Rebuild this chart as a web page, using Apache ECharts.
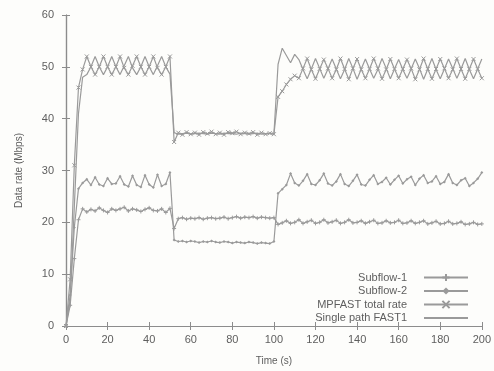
<!DOCTYPE html>
<html>
<head>
<meta charset="utf-8">
<script src="https://cdn.jsdelivr.net/npm/echarts@6/dist/echarts.min.js"></script>
<style>
  html, body { margin: 0; padding: 0; background: #fdfdfb; }
  #chart { width: 494px; height: 371px; }
</style>
</head>
<body>
<div id="chart"></div>
<script>
// sample times (s), one every 2 s
var times = [
  0, 2, 4, 6, 8, 10, 12, 14, 16, 18,
  20, 22, 24, 26, 28, 30, 32, 34, 36, 38,
  40, 42, 44, 46, 48, 50, 52, 54, 56, 58,
  60, 62, 64, 66, 68, 70, 72, 74, 76, 78,
  80, 82, 84, 86, 88, 90, 92, 94, 96, 98,
  100, 102, 104, 106, 108, 110, 112, 114, 116, 118,
  120, 122, 124, 126, 128, 130, 132, 134, 136, 138,
  140, 142, 144, 146, 148, 150, 152, 154, 156, 158,
  160, 162, 164, 166, 168, 170, 172, 174, 176, 178,
  180, 182, 184, 186, 188, 190, 192, 194, 196, 198,
  200
];

var subflow1 = [
  0, 4, 13, 20.5, 22.6, 22.0, 22.5, 22.2, 22.8, 22.3,
  21.9, 22.6, 22.3, 22.6, 22.9, 22.2, 22.6, 22.4, 22.1, 22.5,
  22.8, 22.3, 22.2, 22.6, 21.9, 22.7, 18.8, 20.7, 20.9, 20.6,
  20.8, 20.7, 20.9, 20.6, 20.8, 20.9, 20.7, 20.8, 21.0, 20.7,
  20.9, 21.1, 20.8, 21.0, 20.9, 21.1, 20.8, 21.0, 20.9, 20.8,
  20.9, 19.6, 19.9, 20.3, 19.8, 20.0, 20.5, 19.8, 20.1, 20.4,
  19.8, 20.0, 20.5, 19.9, 20.1, 20.4, 19.8, 20.0, 20.5, 19.9,
  20.0, 20.3, 19.8, 20.1, 20.4, 19.8, 19.9, 20.3, 19.9, 20.0,
  20.4, 19.8, 19.9, 20.3, 19.8, 20.0, 20.3, 19.7, 19.9, 20.2,
  19.7, 19.8, 20.2, 19.7, 19.8, 20.1, 19.6, 19.7, 20.0, 19.6,
  19.7
];

var subflow2 = [
  0, 6, 19, 26.5, 27.6, 28.3, 27.2, 28.7, 27.3, 27.0,
  28.5, 27.4, 27.5, 28.9, 27.3, 26.9, 29.0, 27.2, 26.8, 29.1,
  27.3, 26.7, 29.2, 27.0, 27.4, 29.6, 16.6, 16.3, 16.4, 16.2,
  16.4, 16.3, 16.1, 16.3, 16.2, 16.4, 16.2, 16.1, 16.3, 16.2,
  16.0, 16.2, 16.1, 16.0, 16.2, 16.1, 15.9, 16.1, 16.0, 15.9,
  16.3, 25.6, 26.4, 27.2, 29.4, 27.6, 27.1, 28.0, 29.3, 27.4,
  27.2, 28.1, 29.4, 27.5, 27.1, 27.9, 29.3, 27.4, 27.0, 28.0,
  29.2, 27.3, 27.1, 28.2, 29.1, 27.4, 27.8, 28.6, 27.3, 28.2,
  29.0, 27.5, 28.3, 28.8, 27.2, 28.4, 29.1, 27.6, 27.9, 28.9,
  27.4, 27.8, 29.3, 27.6, 27.2, 28.1, 28.5, 27.0, 27.6, 28.4,
  29.6
];

var mpfastTotal = [
  0, 9, 31, 46, 49.5, 52, 50, 48.5, 50, 52,
  50, 48.5, 50, 52, 49.8, 48.5, 50.2, 52, 50, 48.5,
  50, 52, 49.8, 48.5, 50, 52, 35.5, 37.3, 36.9, 37.4,
  37.0, 37.3, 36.9, 37.4, 37.1, 37.5, 37.0, 37.3, 36.9, 37.4,
  37.2, 37.5, 37.0, 37.3, 37.1, 37.4, 36.9, 37.3, 37.0, 37.2,
  37.0, 44.2, 45.3, 46.6, 47.6, 48.3, 47.8, 49.7, 51.6, 49.5,
  47.7, 49.6, 51.4, 49.7, 47.8, 49.5, 51.6, 49.6, 47.6, 49.7,
  51.5, 49.5, 47.8, 49.6, 51.6, 49.7, 47.7, 49.5, 51.5, 49.6,
  47.8, 49.6, 51.4, 49.7, 47.6, 49.5, 51.6, 49.6, 47.7, 49.6,
  51.5, 49.7, 47.8, 49.5, 51.6, 49.6, 47.7, 49.6, 51.5, 49.6,
  47.8
];

var singlePath = [
  0, 5, 23, 41, 48, 48.5, 50, 52, 50, 48.5,
  50, 52, 50, 48.5, 50.2, 52, 49.8, 48.5, 50, 52,
  50, 48.5, 50.2, 52, 50, 48.6, 37.3, 37.0, 37.1, 37.2,
  37.0, 37.1, 37.2, 37.1, 37.0, 37.2, 37.1, 37.0, 37.2, 37.1,
  37.1, 37.0, 37.2, 37.1, 37.0, 37.1, 37.2, 37.0, 37.1, 37.1,
  37.0, 50.5, 53.6, 52.2, 50.8, 52.4, 51.4, 49.5, 47.7, 49.6,
  51.6, 49.7, 47.8, 49.6, 51.5, 49.6, 47.7, 49.5, 51.6, 49.7,
  47.6, 49.6, 51.5, 49.6, 47.8, 49.5, 51.6, 49.7, 47.7, 49.6,
  51.4, 49.5, 47.8, 49.6, 51.5, 49.7, 47.6, 49.6, 51.6, 49.5,
  47.7, 49.6, 51.5, 49.7, 47.8, 49.6, 51.6, 49.5, 47.7, 49.6,
  51.5
];

var gray = '#9a9a9a';
var axisGray = '#8c8c8c';
var textGray = '#5e5e5e';
var font = 'Liberation Sans';

function pairs(vals) {
  return times.map(function (t, i) { return [t, vals[i]]; });
}

function makeSeries(name, vals, symbol, size, border) {
  return {
    name: name,
    type: 'line',
    data: pairs(vals),
    symbol: symbol,
    symbolSize: size,
    showSymbol: true,
    showAllSymbol: true,
    lineStyle: { color: gray, width: 1.2 },
    itemStyle: { color: gray, borderColor: gray, borderWidth: border },
    animation: false
  };
}

var chart = echarts.init(document.getElementById('chart'));

chart.setOption({
  backgroundColor: '#fdfdfb',
  animation: false,
  grid: { left: 66, right: 7, top: 15, bottom: 43 },
  legend: {
    orient: 'vertical',
    right: 20,
    top: 267,
    align: 'right',
    itemWidth: 44,
    itemHeight: 9,
    itemGap: 2.5,
    textStyle: { color: textGray, fontSize: 11, fontFamily: font, padding: [0, 12, 0, 0] },
    data: [
      'Subflow-1',
      'Subflow-2',
      'MPFAST total rate',
      { name: 'Single path FAST1', itemStyle: { opacity: 0 } }
    ]
  },
  xAxis: [{
    type: 'value',
    min: 0, max: 200, interval: 20,
    name: 'Time (s)',
    nameLocation: 'middle',
    nameGap: 30,
    nameTextStyle: { color: textGray, fontSize: 10, fontFamily: font },
    axisLine: { lineStyle: { color: axisGray, width: 1.2 } },
    axisTick: { inside: true, length: 4, lineStyle: { color: axisGray } },
    axisLabel: { color: textGray, fontSize: 11, fontFamily: font, margin: 8 },
    splitLine: { show: false }
  }, {
    type: 'value',
    position: 'top',
    min: 0, max: 200, interval: 20,
    axisLine: { show: true, lineStyle: { color: axisGray, width: 1.2 } },
    axisTick: { show: true, inside: true, length: 4, lineStyle: { color: axisGray } },
    axisLabel: { show: false },
    splitLine: { show: false }
  }],
  yAxis: [{
    type: 'value',
    min: 0, max: 60, interval: 10,
    name: 'Data rate (Mbps)',
    nameLocation: 'middle',
    nameGap: 42,
    nameTextStyle: { color: textGray, fontSize: 10, fontFamily: font },
    axisLine: { show: true, lineStyle: { color: axisGray, width: 1.2 } },
    axisTick: { show: true, inside: true, length: 4, lineStyle: { color: axisGray } },
    axisLabel: { color: textGray, fontSize: 11, fontFamily: font, margin: 12 },
    splitLine: { show: false }
  }, {
    type: 'value',
    position: 'right',
    min: 0, max: 60, interval: 10,
    axisLine: { show: true, lineStyle: { color: axisGray, width: 1.2 } },
    axisTick: { show: true, inside: true, length: 4, lineStyle: { color: axisGray } },
    axisLabel: { show: false },
    splitLine: { show: false }
  }],
  series: [
    makeSeries('Subflow-1', subflow1, 'path://M5,0L5,10M0,5L10,5', 4, 1),
    makeSeries('Subflow-2', subflow2, 'diamond', 3, 0),
    makeSeries('MPFAST total rate', mpfastTotal, 'path://M0,0L10,10M0,10L10,0', 4, 1),
    makeSeries('Single path FAST1', singlePath, 'circle', 0, 0)
  ]
});
</script>
</body>
</html>
